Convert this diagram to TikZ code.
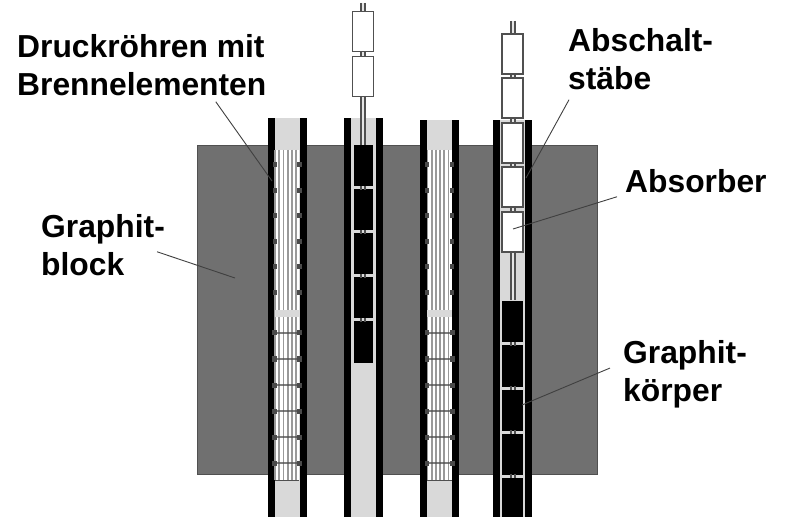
\documentclass[tikz,border=0pt]{standalone}
\usepackage{fontspec}
\setmainfont{Liberation Sans}
\usetikzlibrary{calc}

\begin{document}
\begin{tikzpicture}[x=1pt,y=-1pt,
    lbl/.style={font=\fontsize{31.8}{38}\selectfont\bfseries,align=left,inner sep=0pt,text=black},
    leader/.style={draw=black!75,line width=0.9pt},
    whitebox/.style={draw=rodCol,line width=1.3pt,fill=white,minimum width=21pt,minimum height=40pt,inner sep=0pt}]
    \definecolor{blockCol}{HTML}{707070}
    \definecolor{tubeCol}{HTML}{D9D9D9}
    \definecolor{rodCol}{HTML}{505050}
    \definecolor{gridCol}{HTML}{4A4A4A}
    \definecolor{pinCol}{HTML}{999999}
    \useasboundingbox (0,0) rectangle (798,521);

    % graphite block
    \fill[blockCol,draw=rodCol] (197,145) rectangle (597,474);

    % pressure tubes
    \foreach \tx/\ty in {268/118,344/118,420/120,493/120} {
        \fill[tubeCol] (\tx+5,\ty) rectangle (\tx+33,517);
        \fill[black] (\tx,\ty) rectangle (\tx+6.5,517);
        \fill[black] (\tx+32,\ty) rectangle (\tx+38.5,517);
    }

    % fuel elements
    \foreach \tx in {274.5,427} {
        \fill[white] (\tx,150) rectangle (\tx+24.5,480);
        \foreach \s in {0.5,4.7,...,24.5}
            \draw[pinCol,line width=1.8pt] (\tx+\s,150) -- (\tx+\s,480);
        \fill[tubeCol] (\tx,310) rectangle (\tx+24.5,317);
        \draw[rodCol,line width=0.6pt] (\tx,480) -- (\tx+24.5,480);
        % spacer grids, short in the upper part
        \foreach \gy in {165,191,216,242,267,293} {
            \fill[gridCol] (\tx-2,\gy-2.5) rectangle (\tx+2,\gy+2.5);
            \fill[gridCol] (\tx+22.5,\gy-2.5) rectangle (\tx+27,\gy+2.5);
        }
        \foreach \gy in {333,359,385,411,437,463} {
            \fill[gridCol] (\tx-2.5,\gy-2.5) rectangle (\tx+2,\gy+2.5);
            \fill[gridCol] (\tx+22.5,\gy-2.5) rectangle (\tx+27.5,\gy+2.5);
            \draw[gridCol,line width=2.5pt,opacity=0.7] (\tx,\gy) -- (\tx+24.5,\gy);
        }
    }

    % absorber rods, tube 2
    \fill[white!90!black] (361,3) rectangle (365,145);
    \draw[rodCol,line width=1.1pt] (361,3) -- (361,145) (365,3) -- (365,145);
    \foreach \by in {11,56}
        \node[whitebox] (stabA\by) at (363,\by+20.5) {};

    % graphite bodies, tube 2
    \foreach \by in {145,189,233,277,321} {
        \fill[white!85!black] (352,\by) rectangle (374,\by+43.5);
        \fill[black] (353.5,\by+0.5) rectangle (372.5,\by+41.5);
    }
    \foreach \by in {186,230,274,318}
        \draw[rodCol,line width=1.2pt] (361,\by) -- (361,\by+4) (365,\by) -- (365,\by+4);

    % absorber rods, tube 4
    \fill[white!90!black] (511,21) rectangle (515,300);
    \draw[rodCol,line width=1.1pt] (511,21) -- (511,300) (515,21) -- (515,300);
    \foreach \by in {34,78,123,167,212}
        \node[whitebox] (stabB\by) at (512.5,\by+20) {};

    % graphite bodies, tube 4
    \foreach \by in {301,345,389,433} {
        \fill[white!85!black] (500.5,\by) rectangle (525,\by+43.5);
        \fill[black] (502,\by+0.5) rectangle (523,\by+41.5);
    }
    \fill[white!85!black] (500.5,477) rectangle (525,517);
    \fill[black] (502,477.5) rectangle (523,517);
    \foreach \by in {342,386,430,474}
        \draw[rodCol,line width=1.2pt] (511,\by) -- (511,\by+4) (515,\by) -- (515,\by+4);

    % labels
    \node[lbl,anchor=north west] (labelRohr) at (17,34) {Druckröhren mit\\Brennelementen};
    \node[lbl,anchor=north west] (labelBlock) at (41,214) {Graphit-\\block};
    \node[lbl,anchor=north west] (labelStab) at (568,28) {Abschalt-\\stäbe};
    \node[lbl,anchor=north west] (labelAbs) at (625,169) {Absorber};
    \node[lbl,anchor=north west] (labelKoerper) at (623,340) {Graphit-\\körper};

    % leader lines
    \coordinate (endRohr) at (272,181);
    \coordinate (endBlock) at (235,278);
    \coordinate (endStab) at (526,178);
    \coordinate (endAbs) at (513,229);
    \coordinate (endKoerper) at (522,405);
    \draw[leader] ([xshift=74pt,yshift=-6pt]labelRohr.south) -- (endRohr);
    \draw[leader] ([xshift=54pt,yshift=24pt]labelBlock.south) -- (endBlock);
    \draw[leader] ([xshift=1pt,yshift=-10pt]labelStab.south west) -- (endStab);
    \draw[leader] ([xshift=-8pt,yshift=-4pt]labelAbs.south west) -- (endAbs);
    \draw[leader] ([xshift=-13pt,yshift=40pt]labelKoerper.south west) -- (endKoerper);
\end{tikzpicture}
\end{document}
